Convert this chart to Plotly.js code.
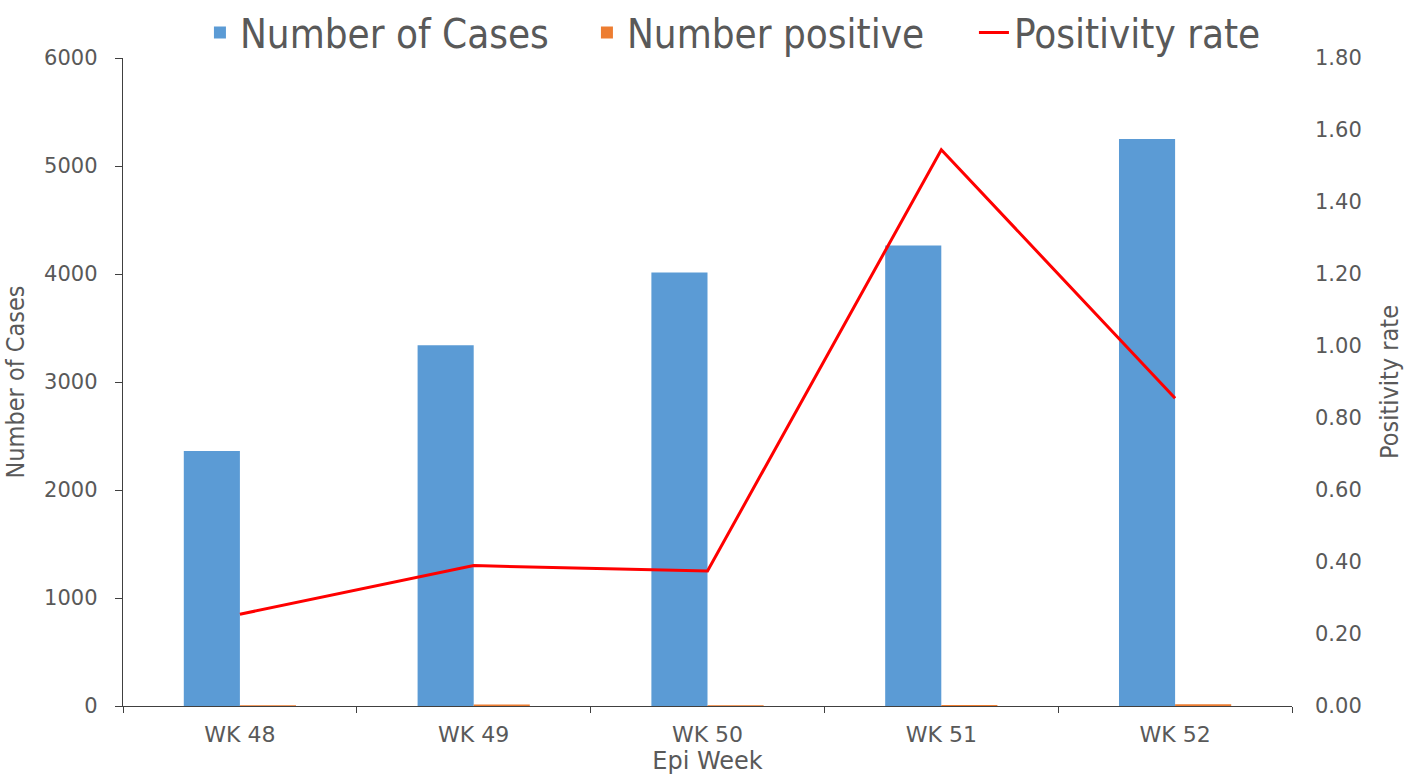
<!DOCTYPE html>
<html>
<head>
<meta charset="utf-8">
<script src="https://cdn.plot.ly/plotly-3.0.1.min.js"></script>
<style>html,body{margin:0;padding:0;background:#fff;}#chart{width:1421px;height:776px;}</style>
</head>
<body>
<div id="chart"></div>
<script>
const weeks = ["WK 48", "WK 49", "WK 50", "WK 51", "WK 52"];
const numberOfCases = [2360, 3340, 4015, 4265, 5250];
const numberPositive = [6, 13, 8, 9, 16];
const positivityRate = [0.255, 0.39, 0.375, 1.545, 0.855];

const narrow = "'Liberation Sans Narrow', 'Arial Narrow', 'DejaVu Sans Condensed', sans-serif";
const wide = "'DejaVu Sans', Verdana, sans-serif";
const grey = "#595959";

const data = [
  {type: "bar", name: "Number of Cases", x: weeks, y: numberOfCases, marker: {color: "#5B9BD5"}, yaxis: "y"},
  {type: "bar", name: "Number positive", x: weeks, y: numberPositive, marker: {color: "#ED7D31"}, yaxis: "y"},
  {type: "scatter", mode: "lines", name: "Positivity rate", x: weeks, y: positivityRate, line: {color: "#FF0000", width: 3}, yaxis: "y2"}
];

const layout = {
  width: 1421, height: 776,
  margin: {l: 123, r: 129, t: 58, b: 70, autoexpand: false},
  paper_bgcolor: "#fff", plot_bgcolor: "#fff",
  barmode: "group", bargap: 0.52, bargroupgap: 0,
  showlegend: true,
  legend: {orientation: "h", x: 0.1407, xanchor: "left", xref: "container",
           y: 1, yanchor: "top", yref: "container", entrywidth: 342, entrywidthmode: "pixels",
           bgcolor: "rgba(0,0,0,0)",
           font: {family: narrow, size: 40, color: grey}, tracegroupgap: 0},
  xaxis: {
    showline: true, linecolor: "#404040", linewidth: 1.3,
    ticks: "outside", tickson: "boundaries", ticklen: 6, tickcolor: "#404040",
    tickfont: {family: wide, size: 22, color: grey}, ticklabelstandoff: 8,
    title: {text: "Epi Week", font: {family: wide, size: 24, color: grey}, standoff: 1},
    showgrid: false, zeroline: false
  },
  yaxis: {
    range: [0, 6000], dtick: 1000, showline: true, linecolor: "#404040", linewidth: 1.3,
    ticks: "outside", ticklen: 7, tickcolor: "#404040",
    tickfont: {family: wide, size: 21, color: grey}, ticklabelstandoff: 13,
    title: {text: "Number of Cases", font: {family: narrow, size: 25, color: grey}, standoff: 12},
    showgrid: false, zeroline: false
  },
  yaxis2: {
    overlaying: "y", side: "right", range: [0, 1.8], dtick: 0.2, tickformat: ".2f",
    showline: false, ticks: "", ticklen: 0,
    tickfont: {family: wide, size: 21, color: grey}, ticklabelstandoff: 22,
    title: {text: "Positivity rate", font: {family: narrow, size: 25, color: grey}, standoff: 19},
    showgrid: false, zeroline: false
  }
};

Plotly.newPlot("chart", data, layout, {displayModeBar: false, staticPlot: true});
</script>
</body>
</html>
